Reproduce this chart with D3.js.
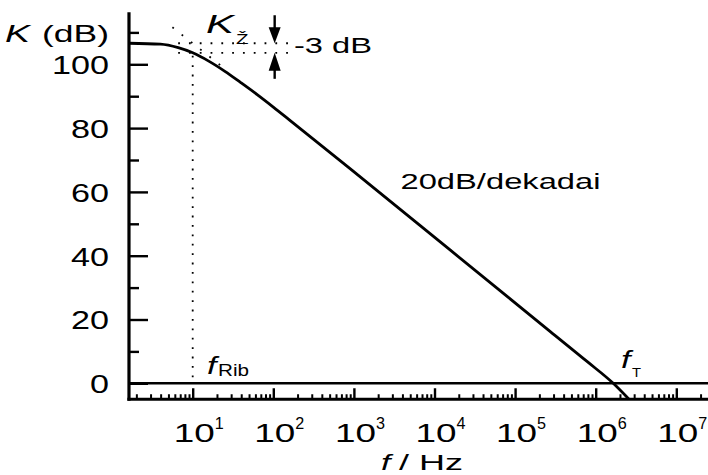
<!DOCTYPE html>
<html><head><meta charset="utf-8">
<script src="https://cdn.jsdelivr.net/npm/d3@7"></script>
<style>
body{margin:0;background:#fff}
svg{display:block;background:#fff}
text{font-family:"Liberation Sans",Arial,Helvetica,sans-serif;fill:#000}
</style>
</head><body>
<svg id="c" width="708" height="475"></svg>
<script>
// ---- data ----
const freqHz = [1.62, 3.98, 6.61, 10, 15.8, 25.1, 39.8, 63.1, 100, 158, 896, 15600, 271000, 794000, 1650000, 2590000];
const gainDb = [106.6, 106.3, 105.2, 103.6, 101.0, 97.8, 94.2, 90.5, 86.6, 82.6, 67.3, 41.8, 16.3, 6.7, 0, -5.0];
const yMajorTicks = [0, 20, 40, 60, 80, 100];
const yMinorTicks = [10, 30, 50, 70, 90, 110];
const xDecadeTicks = [1e1, 1e2, 1e3, 1e4, 1e5, 1e6, 1e7];
const xDecadeExponents = ["1", "2", "3", "4", "5", "6", "7"];
const k0Db = 106.6;          // low-frequency gain
const minus3Db = 103.6;      // K0 - 3 dB
const cornerHz = 10;         // fRib
const asymptoteHz = [5.6, 24.5];
const asymptoteDb = [111.6, 98.8];
const guideHz = [6.6, 171];  // extent of horizontal dotted guides
const arrowHz = 104;
const xDomainHz = [1.62, 2.6e7];
const yDomainDb = [-5, 116.3];

// ---- scales ----
const x = d3.scaleLog().domain([1, 1e7]).range([112.1, 676.3]);
const y = d3.scaleLinear().domain([0, 100]).range([383.3, 64.3]);
const svg = d3.select("#c");

const x0 = x(xDomainHz[0]), xEnd = 708;
const yBase = y(yDomainDb[0]), yTop = y(yDomainDb[1]);

// minor x ticks
const xMinor = [];
for (let d = 0; d <= 7; d++) for (let k = 2; k <= 9; k++) {
  const v = k * Math.pow(10, d);
  if (x(v) > x0 + 2 && x(v) < xEnd) xMinor.push(v);
}

// x axis ticks (pointing up from baseline)
const gx = svg.append("g").attr("transform", `translate(0,${yBase})`);
gx.call(d3.axisTop(x).tickValues(xMinor).tickSize(5).tickFormat(""))
  .call(g => g.select(".domain").remove())
  .call(g => g.selectAll("line").attr("stroke", "#000").attr("stroke-width", 2));
const gx2 = svg.append("g").attr("transform", `translate(0,${yBase})`);
gx2.call(d3.axisTop(x).tickValues(xDecadeTicks).tickSize(11).tickFormat(""))
  .call(g => g.select(".domain").remove())
  .call(g => g.selectAll("line").attr("stroke", "#000").attr("stroke-width", 2.4));

// y axis ticks (pointing right from axis)
const gy = svg.append("g").attr("transform", `translate(${x0},0)`);
gy.call(d3.axisRight(y).tickValues(yMinorTicks).tickSize(10).tickFormat(""))
  .call(g => g.select(".domain").remove())
  .call(g => g.selectAll("line").attr("stroke", "#000").attr("stroke-width", 2.4));
const gy2 = svg.append("g").attr("transform", `translate(${x0},0)`);
gy2.call(d3.axisRight(y).tickValues(yMajorTicks).tickSize(19).tickFormat(""))
  .call(g => g.select(".domain").remove())
  .call(g => g.selectAll("line").attr("stroke", "#000").attr("stroke-width", 2.4));

// y tick labels
const gyl = svg.append("g").attr("transform", `translate(${x0},0)`);
gyl.call(d3.axisLeft(y).tickValues(yMajorTicks).tickSize(0).tickPadding(20))
  .call(g => g.select(".domain").remove());
gyl.selectAll("text")
  .attr("font-size", 25.5)
  .attr("dy", null)
  .attr("y", 9.4)
  .attr("fill", "#000")
  .attr("font-family", '"Liberation Sans",Arial,sans-serif')
  .attr("textLength", d => String(d).length * 19)
  .attr("lengthAdjust", "spacingAndGlyphs");

// axis lines
svg.append("line").attr("x1", x0).attr("x2", x0).attr("y1", yTop).attr("y2", yBase + 1.5)
  .attr("stroke", "#000").attr("stroke-width", 3.2);
svg.append("line").attr("x1", x0 - 1.6).attr("x2", xEnd).attr("y1", yBase).attr("y2", yBase)
  .attr("stroke", "#000").attr("stroke-width", 3);
// 0 dB line
svg.append("line").attr("x1", x0).attr("x2", xEnd).attr("y1", y(0)).attr("y2", y(0))
  .attr("stroke", "#000").attr("stroke-width", 2.4);

// dotted guides
const dot = { stroke: "#000", "stroke-width": 1.8, "stroke-dasharray": "1.8,9" };
function dline(x1, y1, x2, y2, dash) {
  const l = svg.append("line").attr("x1", x1).attr("y1", y1).attr("x2", x2).attr("y2", y2);
  Object.entries(dot).forEach(([k, v]) => l.attr(k, v));
  if (dash) l.attr("stroke-dasharray", dash);
}
dline(x(cornerHz), y(minus3Db) + 3, x(cornerHz), y(0) - 2, "1.8,7.6");
dline(x(guideHz[0]), y(k0Db), x(guideHz[1]), y(k0Db));
dline(x(guideHz[0]), y(minus3Db), x(guideHz[1]), y(minus3Db));
dline(x(asymptoteHz[0]), y(asymptoteDb[0]), x(asymptoteHz[1]), y(asymptoteDb[1]), "1.8,10");

// curve
const pts = freqHz.map((f, i) => ({ f, db: gainDb[i] }));
svg.append("path").datum(pts)
  .attr("d", d3.line().x(d => x(d.f)).y(d => y(d.db)).curve(d3.curveMonotoneX))
  .attr("fill", "none").attr("stroke", "#000").attr("stroke-width", 2.8);

// arrows
const ax = x(arrowHz);
const tTop = y(k0Db), tBot = y(minus3Db);
svg.append("line").attr("x1", ax).attr("x2", ax).attr("y1", tTop - 28).attr("y2", tTop - 14)
  .attr("stroke", "#000").attr("stroke-width", 2.4);
svg.append("path").attr("d", `M${ax - 6},${tTop - 16}L${ax + 6},${tTop - 16}L${ax},${tTop}Z`).attr("fill", "#000");
svg.append("line").attr("x1", ax).attr("x2", ax).attr("y1", tBot + 16).attr("y2", tBot + 26)
  .attr("stroke", "#000").attr("stroke-width", 2.4);
svg.append("path").attr("d", `M${ax - 6},${tBot + 18}L${ax + 6},${tBot + 18}L${ax},${tBot}Z`).attr("fill", "#000");

// text helper
function txt(px, py, s, size, len, opts = {}) {
  const t = svg.append("text").attr("x", px).attr("y", py).attr("font-size", size).text(s);
  if (len) t.attr("textLength", len).attr("lengthAdjust", "spacingAndGlyphs");
  if (opts.italic) t.attr("font-style", "italic");
  if (opts.anchor) t.attr("text-anchor", opts.anchor);
  return t;
}

// x tick labels
xDecadeTicks.forEach((v, i) => {
  txt(x(v) + 1.5, 441.7, "10", 25.7, 41, { anchor: "middle" });
  txt(x(v) + 22, 428.5, xDecadeExponents[i], 16, 9);
});

// axis titles
txt(5, 42.3, "K", 23.7, 25, { italic: true });
txt(42, 42.3, "(dB)", 23.7, 67);
txt(381, 470, "f", 22, 9.5, { italic: true });
txt(399, 470, "/ Hz", 22, 64);

// annotations
txt(206, 33.3, "K", 25.5, 28, { italic: true });
txt(236, 43.5, "Ž", 15.5, 12.5);
txt(294, 53.3, "-3 dB", 22.3, 78);
txt(400.5, 188.6, "20dB/dekadai", 22, 200);
txt(207, 374, "f", 24, 9.5, { italic: true });
txt(218, 376, "Rib", 16.5, 31);
txt(621, 368.3, "f", 23, 9.5, { italic: true });
txt(632, 376.7, "T", 13.5, 9);
</script>
</body></html>
